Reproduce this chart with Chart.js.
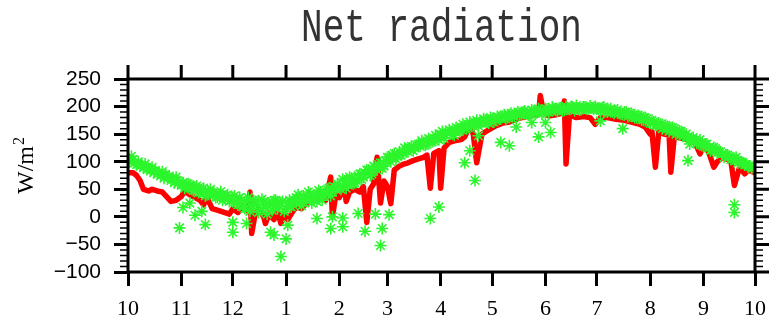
<!DOCTYPE html>
<html>
<head>
<meta charset="utf-8">
<script src="https://cdn.jsdelivr.net/npm/chart.js@4/dist/chart.umd.min.js"></script>
<style>
  body { margin: 0; background: #fff; }
  canvas { display: block; }
</style>
</head>
<body>
<canvas id="netChart" width="776" height="321"></canvas>
<script>
// x axis: days since 1 Oct, month ticks
const monthTicks = [0, 31, 61, 92, 123, 151, 182, 212, 243, 273, 304, 335, 365];
const monthLabels = ['10', '11', '12', '1', '2', '3', '4', '5', '6', '7', '8', '9', '10'];

// red line (model)
const redDays = [0, 3, 5, 7, 9, 12, 14, 17, 20, 23, 25, 28, 31, 33, 36, 39, 42, 44, 46, 49,
  52, 56, 59, 61, 64, 67, 70, 71, 72, 74, 76, 79, 80, 82, 85, 87, 89, 91, 93, 96,
  98, 101, 104, 107, 110, 113, 115, 118, 119, 121, 123, 126, 127, 129, 132, 135, 137, 139, 141, 143,
  145, 147, 149, 151, 153, 155, 158, 160, 163, 166, 169, 172, 174, 176, 178, 181, 182, 184, 187, 190,
  194, 196, 199, 201, 203, 206, 210, 214, 218, 222, 227, 232, 236, 239, 240, 242, 245, 249, 253, 254,
  255, 257, 261, 265, 269, 272, 275, 279, 284, 289, 293, 298, 301, 304, 305, 307, 309, 312, 315, 316,
  318, 322, 326, 330, 333, 335, 338, 341, 343, 346, 349, 351, 353, 356, 359, 361, 365];
const redVals = [80, 80, 75, 66, 50, 47, 50, 47, 45, 35, 28, 30, 37, 47, 40, 35, 30, 22, 35, 15,
  12, 8, 5, 15, 8, 20, 10, 45, -30, 5, 15, 0, -12, 5, -5, 10, -12, 8, -5, 10,
  18, 15, 25, 35, 30, 38, 30, 72, 0, 40, 35, 55, 28, 45, 50, 45, 55, -10, 50, 60,
  108, 25, 65, 55, 24, 85, 92, 95, 98, 102, 105, 108, 112, 52, 115, 120, 52, 125, 135, 138,
  140, 145, 165, 150, 98, 150, 158, 165, 170, 172, 178, 182, 185, 185, 220, 188, 183, 185, 188, 210,
  96, 185, 180, 182, 180, 168, 180, 180, 177, 175, 172, 168, 163, 150, 155, 90, 155, 150, 148, 81,
  145, 143, 140, 135, 114, 128, 118, 90, 100, 108, 104, 100, 57, 90, 78, 85, 80];

// green stars (observations): even days and odd days
const greenEven = [105, 110, 98, 100, 94, 96, 88, 90, 84, 80, 82, 76, 74, 70, 72, 64,
  62, 55, 58, 48, 56, 45, 52, 40, 50, 44, 36, 46, 34, 40, 30,
  38, 22, 30, 15, 35, 20, 28, 8, 32, 18, 25, 12, 30, 20, 28,
  15, 30, 22, 35, 25, 38, 30, 42, 35, 28, 45, 40, 50, 38, 55,
  60, 50, 65, 58, 70, 62, 75, 68, 80, 85, 78, 90, 95, 88, 102,
  108, 112, 105, 118, 115, 122, 125, 120, 130, 128, 135, 132, 140, 138, 145,
  150, 142, 152, 155, 148, 160, 158, 165, 162, 168, 170, 165, 172, 175, 170,
  178, 175, 180, 182, 178, 185, 183, 187, 185, 190, 188, 186, 192, 189, 193,
  190, 195, 193, 196, 192, 198, 194, 196, 200, 193, 197, 195, 199, 196, 198,
  200, 195, 198, 192, 194, 190, 192, 188, 186, 190, 184, 185, 180, 182, 176,
  178, 170, 172, 166, 168, 162, 164, 158, 160, 152, 155, 148, 145, 142, 138,
  136, 130, 132, 125, 122, 124, 118, 115, 112, 110, 105, 108, 100, 98, 95, 92, 90];
const greenOdd = [100, 104, 95, 92, 90, 86, 85, 80, 78, 74, 70, 72, 66, 62, 60, 58,
  52, 60, 50, 54, 44, 50, 38, 46, 42, 35, 40, 30, 38, 28, 35,
  25, 35, 18, 28, 10, 30, 22, 15, 28, 5, 22, 30, 15, 25, 10,
  25, 18, 30, 40, 20, 32, 45, 25, 38, 48, 30, 42, 52, 45, 50,
  55, 68, 52, 72, 60, 66, 78, 72, 85, 75, 92, 85, 98, 92, 108,
  100, 115, 110, 112, 125, 118, 128, 125, 132, 138, 130, 142, 136, 148, 140,
  155, 148, 158, 150, 162, 155, 168, 160, 172, 165, 175, 170, 178, 172, 180,
  172, 182, 178, 185, 180, 188, 182, 190, 186, 192, 185, 194, 190, 196, 188,
  196, 190, 199, 194, 197, 192, 200, 195, 198, 202, 194, 199, 196, 201, 195,
  197, 193, 199, 190, 196, 188, 194, 186, 190, 182, 188, 180, 184, 176, 180,
  172, 175, 166, 170, 160, 166, 155, 162, 150, 156, 146, 150, 140, 144, 134, 140,
  128, 132, 120, 126, 116, 118, 108, 112, 104, 106, 98, 100, 94, 92, 88];

// green stars well below the cloud
const outDays = [30, 32, 36, 39, 43, 45, 61, 61, 69, 83, 85, 89, 92, 93, 110, 118, 119, 125, 125, 134, 138, 144,
  147, 148, 152, 176, 181, 196, 199, 202, 204, 217, 222, 226, 235, 239, 243, 246, 275, 288, 326, 327,
  353, 353];
const outVals = [-20, 17, 25, 3, 10, -14, -28, -10, -12, -28, -33, -72, -40, -15, -3, -21, 0, -18, -2, 6, -26, 5,
  -52, -21, 4, -3, 18, 98, 120, 66, 147, 135, 129, 163, 171, 145, 171, 153, 174, 160, 102, 132,
  22, 8];

const ctx = document.getElementById('netChart');

const framePlugin = {
    id: 'frame',
    afterDraw(chart) {
        const c = chart.ctx;
        const a = chart.chartArea;
        const x = chart.scales.x;
        const y = chart.scales.y;
        c.save();
        c.strokeStyle = '#000';
        c.lineCap = 'butt';

        // minor y ticks, both sides
        c.lineWidth = 1.5;
        c.beginPath();
        for (let v = y.min; v <= y.max; v += 10) {
            if (v % 50 === 0) continue;
            const py = y.getPixelForValue(v);
            c.moveTo(a.left, py); c.lineTo(a.left - 8, py);
            c.moveTo(a.right, py); c.lineTo(a.right + 8, py);
        }
        c.stroke();

        // major ticks on top and right
        c.lineWidth = 3;
        c.beginPath();
        monthTicks.forEach(d => {
            const px = x.getPixelForValue(d);
            c.moveTo(px, a.top); c.lineTo(px, a.top - 14);
        });
        for (let v = y.min; v <= y.max; v += 50) {
            const py = y.getPixelForValue(v);
            c.moveTo(a.right, py); c.lineTo(a.right + 14, py);
        }
        c.stroke();

        // frame
        c.strokeRect(a.left, a.top, a.right - a.left, a.bottom - a.top);

        // title, stretched a bit vertically like the original font
        c.save();
        c.fillStyle = '#333';
        c.font = '36px "Liberation Mono"';
        c.textAlign = 'center';
        c.textBaseline = 'alphabetic';
        c.translate((a.left + a.right) / 2, 41);
        c.scale(1, 1.3);
        c.fillText('Net radiation', 0, 0);
        c.restore();

        // y axis title: W/m with raised 2
        c.translate(33, 194);
        c.rotate(-Math.PI / 2);
        c.fillStyle = '#000';
        c.textAlign = 'left';
        c.textBaseline = 'alphabetic';
        c.font = '24px "Liberation Serif"';
        c.fillText('W/m', 0, 0);
        const w = c.measureText('W/m').width;
        c.font = '16px "Liberation Serif"';
        c.fillText('2', w + 1, -9);
        c.restore();
    }
};

const starStyle = {
    pointStyle: 'star',
    pointRadius: 6,
    borderColor: '#2cf52c',
    backgroundColor: '#2cf52c',
    borderWidth: 1.6,
    order: 0,
};

const myChart = new Chart(ctx, {
    type: 'scatter',
    data: {
        datasets: [
            { label: 'obs even', data: greenEven.map((v, i) => ({ x: i * 2, y: v })), ...starStyle },
            { label: 'obs odd', data: greenOdd.map((v, i) => ({ x: i * 2 + 1, y: v })), ...starStyle },
            { label: 'obs low', data: outDays.map((d, i) => ({ x: d, y: outVals[i] })), ...starStyle },
            {
                type: 'line',
                label: 'model',
                data: redDays.map((d, i) => ({ x: d, y: redVals[i] })),
                borderColor: '#ff0000',
                borderWidth: 5.5,
                borderJoinStyle: 'round',
                borderCapStyle: 'round',
                pointRadius: 0,
                tension: 0,
                fill: false,
                order: 1,
            },
        ],
    },
    options: {
        responsive: false,
        devicePixelRatio: 1,
        animation: false,
        layout: { padding: { top: 79, right: 18, left: 0, bottom: 0 } },
        plugins: {
            legend: { display: false },
            tooltip: { enabled: false },
        },
        scales: {
            x: {
                type: 'linear',
                min: 0,
                max: 365,
                afterFit: s => { s.height = 49; },
                afterBuildTicks: s => { s.ticks = monthTicks.map(v => ({ value: v })); },
                border: { display: false },
                grid: { drawOnChartArea: false, tickLength: 14, tickWidth: 3, color: '#000' },
                ticks: {
                    autoSkip: false,
                    maxRotation: 0,
                    padding: 10,
                    color: '#000',
                    font: { family: 'Liberation Serif', size: 22 },
                    callback: v => monthLabels[monthTicks.indexOf(v)],
                },
            },
            y: {
                min: -100,
                max: 250,
                afterFit: s => { s.width = 128; },
                border: { display: false },
                grid: { drawOnChartArea: false, tickLength: 14, tickWidth: 3, color: '#000' },
                ticks: {
                    stepSize: 50,
                    autoSkip: false,
                    padding: 13,
                    color: '#000',
                    font: { family: 'Liberation Sans', size: 21 },
                    callback: v => String(v).replace('-', '\u2212'),
                },
            },
        },
    },
    plugins: [framePlugin],
});
</script>
</body>
</html>
